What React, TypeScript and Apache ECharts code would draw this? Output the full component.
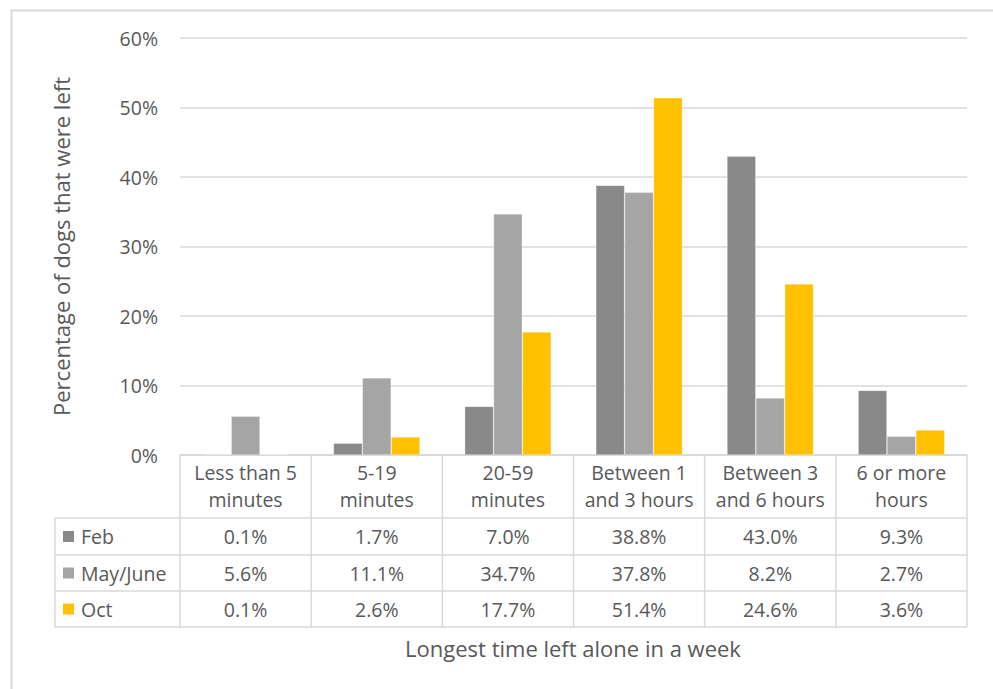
import React, { useEffect, useRef } from "react";
import * as echarts from "echarts";

const categories = [
  "Less than 5\nminutes",
  "5-19\nminutes",
  "20-59\nminutes",
  "Between 1\nand 3 hours",
  "Between 3\nand 6 hours",
  "6 or more\nhours",
];
const seriesNames = ["Feb", "May/June", "Oct"];
const febValues = [0.1, 1.7, 7.0, 38.8, 43.0, 9.3];
const mayJuneValues = [5.6, 11.1, 34.7, 37.8, 8.2, 2.7];
const octValues = [0.1, 2.6, 17.7, 51.4, 24.6, 3.6];
const seriesColors = ["#898989", "#a5a5a5", "#ffc000"];
const yTicks = [0, 10, 20, 30, 40, 50, 60];

const FONT = "Open Sans";
const TEXT = "#595959";
const LINE = "#d9d9d9";
const FS = 19.5;
const TITLE_FS = 22;

export default function App() {
  const ref = useRef<HTMLDivElement>(null);
  useEffect(() => {
    if (!ref.current) return;
    const chart = echarts.init(ref.current, undefined, { renderer: "svg" });
    const W = 993;
    const H = 689;
    const gLeft = 180;
    const gRight = 967;
    const gTop = 38;
    const gBottom = 455;
    const catW = (gRight - gLeft) / categories.length;
    const rowYs = [455, 518, 555, 591, 627];
    const tableLeft = 55;
    const allValues = [febValues, mayJuneValues, octValues];

    const graphics: any[] = [];
    graphics.push({
      type: "rect",
      shape: { x: 11.5, y: 10.5, width: 1100, height: 1000 },
      style: { fill: "none", stroke: LINE, lineWidth: 2 },
      silent: true,
    });
    rowYs.forEach((y, i) => {
      graphics.push({
        type: "line",
        shape: { x1: i === 0 ? gLeft : tableLeft, y1: y, x2: gRight, y2: y },
        style: { stroke: LINE, lineWidth: 1.5 },
        silent: true,
      });
    });
    graphics.push({
      type: "line",
      shape: { x1: tableLeft, y1: rowYs[1], x2: tableLeft, y2: rowYs[4] },
      style: { stroke: LINE, lineWidth: 1.5 },
      silent: true,
    });
    for (let i = 0; i <= categories.length; i++) {
      const x = gLeft + i * catW;
      graphics.push({
        type: "line",
        shape: { x1: x, y1: rowYs[0], x2: x, y2: rowYs[4] },
        style: { stroke: LINE, lineWidth: 1.5 },
        silent: true,
      });
    }
    categories.forEach((c, i) => {
      graphics.push({
        type: "text",
        x: gLeft + (i + 0.5) * catW,
        y: (rowYs[0] + rowYs[1]) / 2 - 0.5,
        style: {
          text: c,
          fill: TEXT,
          fontSize: FS,
          fontFamily: FONT,
          align: "center",
          verticalAlign: "middle",
          lineHeight: 27,
        },
        silent: true,
      });
    });
    seriesNames.forEach((name, r) => {
      const cy = (rowYs[r + 1] + rowYs[r + 2]) / 2;
      graphics.push({
        type: "rect",
        shape: { x: 63, y: cy - 5.5, width: 11, height: 11 },
        style: { fill: seriesColors[r] },
        silent: true,
      });
      graphics.push({
        type: "text",
        x: 81,
        y: cy,
        style: {
          text: name,
          fill: TEXT,
          fontSize: FS,
          fontFamily: FONT,
          align: "left",
          verticalAlign: "middle",
        },
        silent: true,
      });
      allValues[r].forEach((v, i) => {
        graphics.push({
          type: "text",
          x: gLeft + (i + 0.5) * catW,
          y: cy,
          style: {
            text: v.toFixed(1) + "%",
            fill: TEXT,
            fontSize: FS,
            fontFamily: FONT,
            align: "center",
            verticalAlign: "middle",
          },
          silent: true,
        });
      });
    });
    graphics.push({
      type: "text",
      x: (gLeft + gRight) / 2 - 0.5,
      y: 648,
      style: {
        text: "Longest time left alone in a week",
        fill: TEXT,
        fontSize: TITLE_FS,
        fontFamily: FONT,
        align: "center",
        verticalAlign: "middle",
      },
      silent: true,
    });

    chart.setOption({
      animation: false,
      backgroundColor: "#ffffff",
      textStyle: { fontFamily: FONT },
      grid: {
        left: gLeft,
        right: W - gRight,
        top: gTop,
        bottom: H - gBottom,
        containLabel: false,
      },
      xAxis: {
        type: "category",
        data: categories,
        axisLine: { show: true, lineStyle: { color: LINE, width: 1.5 } },
        axisTick: { show: false },
        axisLabel: { show: false },
      },
      yAxis: {
        type: "value",
        min: yTicks[0],
        max: yTicks[yTicks.length - 1],
        interval: 10,
        name: "Percentage of dogs that were left",
        nameLocation: "middle",
        nameGap: 108,
        nameTextStyle: { color: TEXT, fontSize: TITLE_FS, fontFamily: FONT },
        axisLine: { show: false },
        axisTick: { show: false },
        axisLabel: {
          formatter: "{value}%",
          color: TEXT,
          fontSize: FS,
          fontFamily: FONT,
          margin: 22,
        },
        splitLine: { lineStyle: { color: LINE, width: 1.5 } },
      },
      series: seriesNames.map((name, i) => ({
        name,
        type: "bar",
        data: allValues[i],
        barGap: "0%",
        barCategoryGap: "34%",
        itemStyle: { color: seriesColors[i], borderColor: "rgba(255,255,255,0.5)", borderWidth: 0.6 },
      })),
      graphic: graphics,
    });
    return () => chart.dispose();
  }, []);
  return (
    <div
      ref={ref}
      style={{ position: "fixed", left: 0, top: 0, width: 993, height: 689 }}
    />
  );
}
